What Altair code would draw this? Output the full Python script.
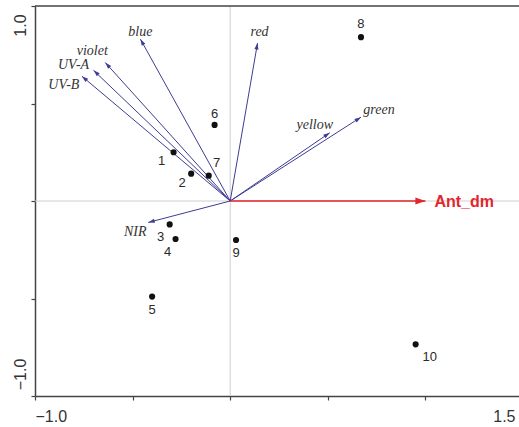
import math

import altair as alt
import pandas as pd

# Sample scores on the first two ordination axes
site_ids = ["1", "2", "3", "4", "5", "6", "7", "8", "9", "10"]
site_ax1 = [-0.29, -0.20, -0.31, -0.28, -0.40, -0.08, -0.11, 0.67, 0.03, 0.95]
site_ax2 = [0.25, 0.14, -0.12, -0.195, -0.49, 0.39, 0.13, 0.84, -0.20, -0.735]

# Explanatory variables (spectral bands)
env_names = ["blue", "violet", "UV-A", "UV-B", "red", "yellow", "green", "NIR"]
env_ax1 = [-0.46, -0.64, -0.70, -0.76, 0.14, 0.51, 0.67, -0.42]
env_ax2 = [0.83, 0.71, 0.67, 0.64, 0.81, 0.35, 0.43, -0.11]

# Response variable
resp_names = ["Ant_dm"]
resp_ax1 = [1.0]
resp_ax2 = [0.0]

# Axis ticks / labels
x_ticks = [-1.0, -0.5, 0.0, 0.5, 1.0, 1.5]
y_ticks = [-1.0, -0.5, 0.0, 0.5, 1.0]

# Label placement (pixel offsets from the anchor) - styling only
site_label_offset = {
    "1": (-12, 9), "2": (-9, 9), "3": (-9, 13), "4": (-8, 13), "5": (0, 13),
    "6": (0, -11), "7": (8, -13), "8": (0, -13), "9": (0, 13), "10": (14, 13),
}
env_label_offset = {
    "blue": (0, -7), "violet": (-13, -12), "UV-A": (-20, -5), "UV-B": (-18, 9),
    "red": (2, -11), "yellow": (-15, -8), "green": (18, -7), "NIR": (-13, 10),
}

AXIS_COLOR = "#444444"
ZERO_COLOR = "#cfcfcf"
BLUE = "#3d3d92"
RED = "#e3262d"
ARROW = "M0,0L0.32,1L-0.32,1Z"

sites = pd.DataFrame({"id": site_ids, "ax1": site_ax1, "ax2": site_ax2})

env = pd.DataFrame({"name": env_names, "ax1": env_ax1, "ax2": env_ax2})
env["x0"] = 0.0
env["y0"] = 0.0
env["ang"] = [(math.degrees(math.atan2(a, b)) + 360) % 360 for a, b in zip(env_ax1, env_ax2)]

resp = pd.DataFrame({"name": resp_names, "ax1": resp_ax1, "ax2": resp_ax2})
resp["x0"] = 0.0
resp["y0"] = 0.0
resp["ang"] = [(math.degrees(math.atan2(a, b)) + 360) % 360 for a, b in zip(resp_ax1, resp_ax2)]

frame = pd.DataFrame({"v": [0.0], "top": [1.0], "xmin": [-1.0], "xmax": [1.5],
                      "ymin": [-1.0], "ymax": [1.0]})

xs = alt.Scale(domain=[-1.0, 1.5], range=[0, 488], nice=False, zero=False)
ys = alt.Scale(domain=[-1.0, 1.0], nice=False, zero=False)

x_axis = alt.Axis(
    values=x_ticks, title=None, grid=False, domainColor=AXIS_COLOR, domainWidth=1.5,
    tickColor=AXIS_COLOR, tickWidth=1.2, tickSize=4,
    labelExpr="datum.value == -1 || datum.value == 1.5 ? format(datum.value, '.1f') : ''",
    labelFlush=True,
    labelOffset={"condition": {"test": "datum.value > 1", "value": -8}, "value": 0},
    labelFont="Liberation Sans", labelFontSize=16, labelColor="#333333", labelPadding=8,
)
y_axis = alt.Axis(
    values=y_ticks, title=None, grid=False, domainColor=AXIS_COLOR, domainWidth=1.5,
    tickColor=AXIS_COLOR, tickWidth=1.2, tickSize=4,
    labelExpr="datum.value == -1 || datum.value == 1 ? format(datum.value, '.1f') : ''",
    labelAngle=270, labelFlush=False, labelAlign="center", labelBaseline="bottom",
    labelOffset={"condition": {"test": "datum.value > 0", "value": 19}, "value": -22},
    labelFont="Liberation Sans", labelFontSize=16, labelColor="#333333", labelPadding=3,
)


def X(field):
    return alt.X(field, scale=xs, axis=x_axis)


def Y(field):
    return alt.Y(field, scale=ys, axis=y_axis)


# zero lines and top frame line
zero_v = alt.Chart(frame).mark_rule(color=ZERO_COLOR, strokeWidth=1).encode(
    x=X("v:Q"), y=Y("ymin:Q"), y2="ymax:Q",
)
zero_h = alt.Chart(frame).mark_rule(color=ZERO_COLOR, strokeWidth=1).encode(
    y=Y("v:Q"), x=X("xmin:Q"), x2="xmax:Q",
)
top_border = alt.Chart(frame).mark_rule(color=AXIS_COLOR, strokeWidth=1.5).encode(
    y=Y("top:Q"), x=X("xmin:Q"), x2="xmax:Q",
)

# explanatory arrows
env_lines = alt.Chart(env).mark_rule(color=BLUE, strokeWidth=1).encode(
    x=X("x0:Q"), y=Y("y0:Q"), x2="ax1:Q", y2="ax2:Q",
)
env_heads = alt.Chart(env).mark_point(shape=ARROW, filled=True, color=BLUE, opacity=1,
                                      size=170, strokeWidth=0).encode(
    x=X("ax1:Q"), y=Y("ax2:Q"), angle=alt.Angle("ang:Q", scale=None),
)
env_text = [
    alt.Chart(env).transform_filter(alt.datum.name == n).mark_text(
        font="Liberation Serif", fontStyle="italic", fontSize=14, color="#333333",
        baseline="middle", align="center",
        dx=env_label_offset[n][0], dy=env_label_offset[n][1],
    ).encode(x=X("ax1:Q"), y=Y("ax2:Q"), text="name:N")
    for n in env_names
]

# response arrow
resp_line = alt.Chart(resp).mark_rule(color=RED, strokeWidth=1.6).encode(
    x=X("x0:Q"), y=Y("y0:Q"), x2="ax1:Q", y2="ax2:Q",
)
resp_head = alt.Chart(resp).mark_point(shape="M0,0L0.35,1L-0.35,1Z", filled=True,
                                       color=RED, opacity=1, size=400, strokeWidth=0).encode(
    x=X("ax1:Q"), y=Y("ax2:Q"), angle=alt.Angle("ang:Q", scale=None),
)
resp_text = alt.Chart(resp).mark_text(font="Liberation Sans", fontWeight="bold",
                                      fontSize=16, color=RED, align="left",
                                      baseline="middle", dx=9, dy=1).encode(
    x=X("ax1:Q"), y=Y("ax2:Q"), text="name:N",
)

# samples
site_pts = alt.Chart(sites).mark_circle(color="#111111", opacity=1, size=38).encode(
    x=X("ax1:Q"), y=Y("ax2:Q"),
)
site_text = [
    alt.Chart(sites).transform_filter(alt.datum.id == s).mark_text(
        font="Liberation Sans", fontSize=13, color="#2a2a2a",
        baseline="middle", align="center",
        dx=site_label_offset[s][0], dy=site_label_offset[s][1],
    ).encode(x=X("ax1:Q"), y=Y("ax2:Q"), text="id:N")
    for s in site_ids
]

chart = alt.layer(
    zero_v, zero_h, top_border,
    env_lines, env_heads, *env_text,
    resp_line, resp_head, resp_text,
    site_pts, *site_text,
).properties(
    width=484, height=390,
    autosize=alt.AutoSizeParams(type="none"),
    padding={"left": 35, "top": 6, "right": 0, "bottom": 31},
    background="white",
).configure_view(stroke=None)

chart.save("out.html", embed_options={"renderer": "svg", "actions": False})
